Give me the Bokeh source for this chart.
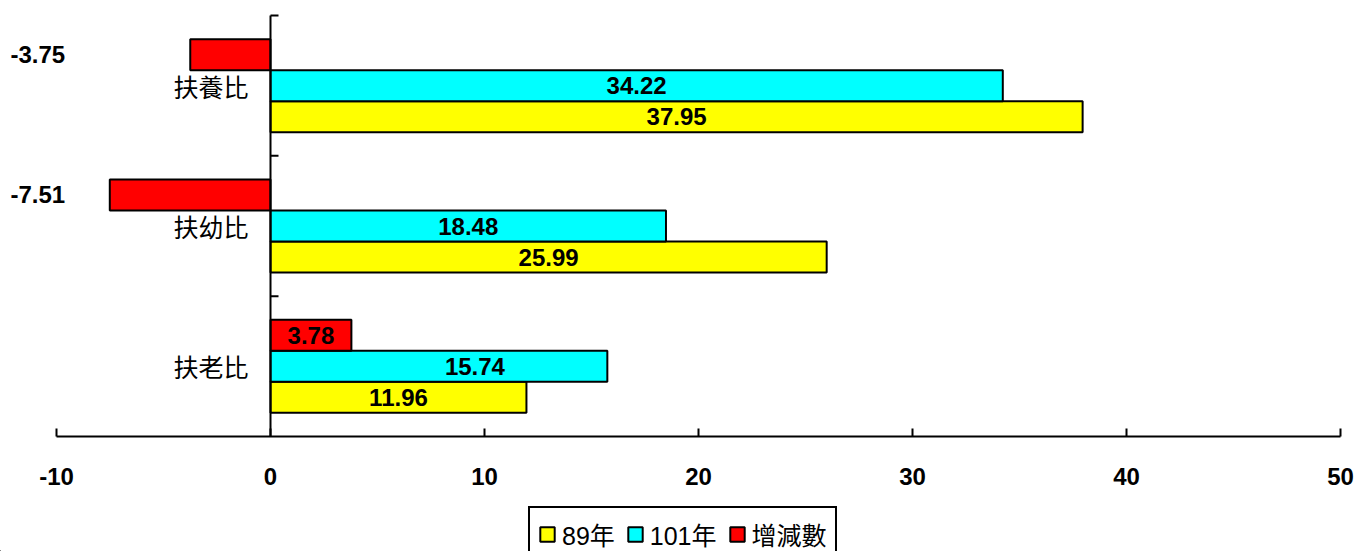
from bokeh.plotting import figure
from bokeh.layouts import column
from bokeh.models import ColumnDataSource, Range1d, FixedTicker, Legend, LegendItem
from bokeh.core.properties import value
from bokeh.embed import file_html
from bokeh.resources import INLINE

# ---- data ----
categories = ["扶老比", "扶幼比", "扶養比"]
y89 = [11.96, 25.99, 37.95]
y101 = [15.74, 18.48, 34.22]
diff = [3.78, -7.51, -3.75]
series_names = ["89年", "101年", "增減數"]
x_ticks = [-10, 0, 10, 20, 30, 40, 50]

# ---- styles ----
colors = ["#FFFF00", "#00FFFF", "#FF0000"]
offsets = [-0.221, 0.0, 0.221]
bar_h = 0.221
num_font = "Liberation Sans, Arial, sans-serif"
cjk_font = "Liberation Sans, Noto Sans CJK TC, sans-serif"
label_dx = {"101年": [36, 0, 0]}

p = figure(width=1356, height=500, output_backend="svg", toolbar_location=None,
           x_range=Range1d(-12.617, 50.748), y_range=Range1d(0, 3.107),
           y_axis_location=None, min_border_left=0, min_border_right=0,
           min_border_top=0, min_border_bottom=64)
p.grid.visible = False
p.outline_line_color = None
p.background_fill_color = "white"
p.border_fill_color = "white"

centers = [i + 0.5 for i in range(len(categories))]
for name, vals, col, off in zip(series_names, [y89, y101, diff], colors, offsets):
    src = ColumnDataSource(dict(y=[c + off for c in centers], right=vals, left=[0] * len(vals)))
    p.hbar(y="y", left="left", right="right", height=bar_h, source=src,
           fill_color=col, line_color="black", line_width=2)

    pos_x, pos_y, pos_t, pos_dx = [], [], [], []
    neg_x, neg_y, neg_t = [], [], []
    dxs = label_dx.get(name, [0] * len(vals))
    for c, v, dx in zip(centers, vals, dxs):
        if v >= 0:
            pos_x.append(v / 2); pos_y.append(c + off); pos_t.append(f"{v:.2f}"); pos_dx.append(dx)
        else:
            neg_x.append(x_ticks[0]); neg_y.append(c + off); neg_t.append(f"{v:.2f}")
    p.text(x=pos_x, y=pos_y, text=pos_t, x_offset=pos_dx,
           text_align="center", text_baseline="middle", text_font=value(num_font),
           text_font_size="24px", text_font_style="bold", text_color="black")
    if neg_x:
        p.text(x=neg_x, y=neg_y, text=neg_t, x_offset=-46,
               text_align="left", text_baseline="middle", text_font=value(num_font),
               text_font_size="24px", text_font_style="bold", text_color="black")

# vertical category axis at x = 0
p.segment(x0=[0], y0=[0], x1=[0], y1=[len(categories)], line_color="black", line_width=2)
tick_len = 8 / 21.4
p.segment(x0=[0] * len(categories), y0=list(range(1, len(categories) + 1)),
          x1=[tick_len] * len(categories), y1=list(range(1, len(categories) + 1)),
          line_color="black", line_width=2)
p.text(x=[0] * len(categories), y=centers, text=categories, x_offset=-22, y_offset=2,
       text_align="right", text_baseline="middle", text_font=value(cjk_font),
       text_font_size="25px", text_color="black")

# x axis
ax = p.xaxis[0]
ax.bounds = (x_ticks[0], x_ticks[-1])
ax.ticker = FixedTicker(ticks=x_ticks)
ax.major_label_overrides = {t: str(t) for t in x_ticks}
ax.major_tick_in = 8
ax.major_tick_out = 0
ax.minor_tick_line_color = None
ax.axis_line_width = 2
ax.major_tick_line_width = 2
ax.axis_line_color = "black"
ax.major_tick_line_color = "black"
ax.major_label_text_font = num_font
ax.major_label_text_font_size = "24px"
ax.major_label_text_font_style = "bold"
ax.major_label_text_color = "black"
ax.major_label_standoff = 31

# ---- legend figure ----
lg = figure(width=1356, height=51, output_backend="svg", toolbar_location=None,
            x_range=Range1d(0, 1), y_range=Range1d(0, 1),
            x_axis_location=None, y_axis_location=None,
            min_border_left=0, min_border_right=0, min_border_top=0, min_border_bottom=0)
lg.grid.visible = False
lg.outline_line_color = None
lg.border_fill_color = "white"
items = []
for name, col in zip(series_names, colors):
    # placeholder glyph outside the visible range, only used for the legend swatch
    r = lg.hbar(y=[-5], left=[-5], right=[-4], height=0.1,
                fill_color=col, line_color="black", line_width=2)
    items.append(LegendItem(label=name, renderers=[r]))

legend = Legend(items=items, orientation="horizontal", location=(528, -11),
                glyph_width=18, glyph_height=18, label_standoff=6, spacing=11,
                padding=8, margin=0, border_line_color="black", border_line_width=2,
                border_line_alpha=1,
                background_fill_color="white", background_fill_alpha=1,
                label_text_font=cjk_font, label_text_font_size="25px",
                label_text_color="black")
lg.add_layout(legend, "center")

layout = column(p, lg, spacing=0)
open("out.html", "w").write(file_html(layout, INLINE))
